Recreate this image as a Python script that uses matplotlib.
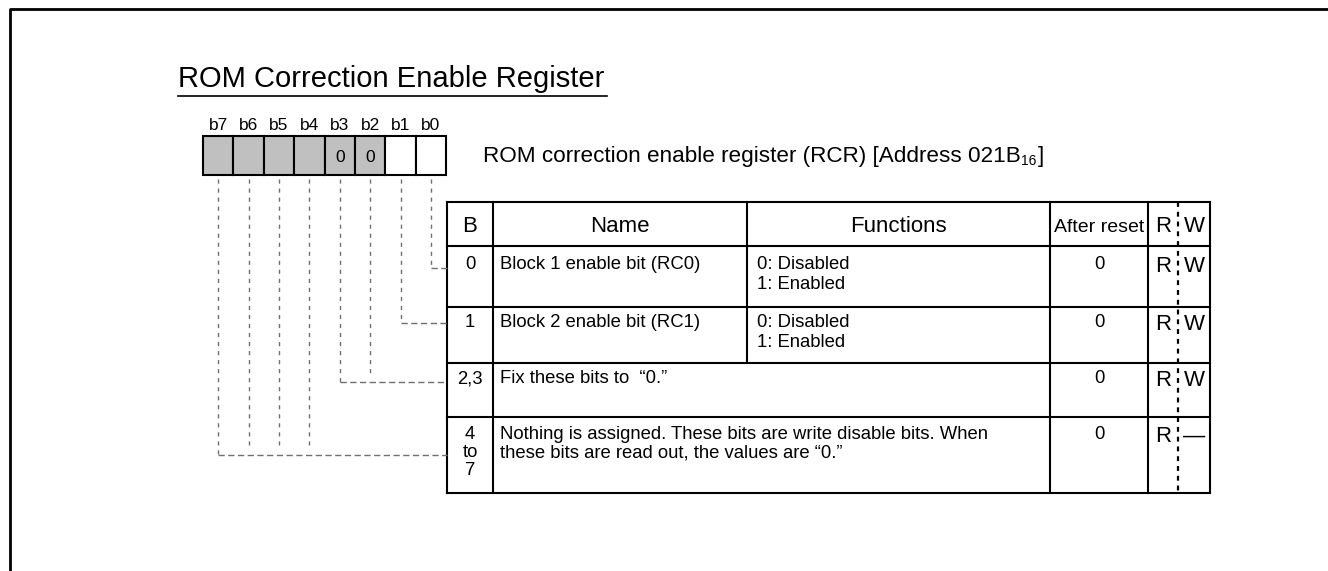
import matplotlib
matplotlib.use("Agg")
import matplotlib.pyplot as plt
from matplotlib.patches import Rectangle

plt.rcParams['font.family'] = ['Liberation Sans', 'DejaVu Sans']

# register content
title = 'ROM Correction Enable Register'
reg_desc = 'ROM correction enable register (RCR) [Address 021B'
reg_sub = '16'
reg_end = ']'
bit_labels = ['b7', 'b6', 'b5', 'b4', 'b3', 'b2', 'b1', 'b0']
bit_shaded = [True, True, True, True, True, True, False, False]
bit_fixed = ['', '', '', '', '0', '0', '', '']

header = ['B', 'Name', 'Functions', 'After reset', 'R', 'W']
row_bits = [['0'], ['1'], ['2,3'], ['4', 'to', '7']]
row_names = [['Block 1 enable bit (RC0)'], ['Block 2 enable bit (RC1)'],
             ['Fix these bits to  \u201c0.\u201d'],
             ['Nothing is assigned. These bits are write disable bits. When',
              'these bits are read out, the values are \u201c0.\u201d']]
row_funcs = [['0: Disabled', '1: Enabled'], ['0: Disabled', '1: Enabled'], None, None]
row_reset = ['0', '0', '0', '0']
row_read = ['R', 'R', 'R', 'R']
row_write = ['W', 'W', 'W', '\u2014']
# which bits (index into bit_labels) feed each row
row_sources = [[7], [6], [4, 5], [0, 1, 2, 3]]

fig = plt.figure(figsize=(13.28, 5.71), dpi=100)
ax = fig.add_axes([0, 0, 1, 1])
ax.set_xlim(0, 1328)
ax.set_ylim(571, 0)
ax.axis('off')

# outer frame (top + left)
ax.plot([10, 10, 1328], [571, 9, 9], color='black', lw=2, solid_capstyle='butt')

# title
ax.text(178, 87, title, fontsize=21, ha='left', va='baseline')
ax.plot([178, 607], [96, 96], color='black', lw=1.2)

# bit boxes
bx0, bw, by0, by1 = 203, 30.4, 136, 175
for i, lab in enumerate(bit_labels):
    x = bx0 + i * bw
    ax.add_patch(Rectangle((x, by0), bw, by1 - by0,
                           facecolor='#c0c0c0' if bit_shaded[i] else 'white',
                           edgecolor='black', lw=1.5))
    ax.text(x + bw / 2, 130, lab, fontsize=12.5, ha='center', va='baseline')
    if bit_fixed[i]:
        ax.text(x + bw / 2, 162, bit_fixed[i], fontsize=12.5, ha='center', va='baseline')

# register description with subscript, chained by text extents
t1 = ax.text(483, 162, reg_desc, fontsize=16.2, ha='left', va='baseline')
t2 = ax.annotate(reg_sub, xy=(1, 0), xycoords=t1, xytext=(0.5, -1),
                 textcoords='offset points', fontsize=10, ha='left', va='bottom')
ax.annotate(reg_end, xy=(1, 0), xycoords=t2, xytext=(0.5, 1),
            textcoords='offset points', fontsize=16.2, ha='left', va='bottom')

# table geometry
cols = [447, 493, 747, 1050, 1148, 1178, 1210]
rows = [202, 246, 307, 363, 417, 493]
tlw = 1.5
for y in rows:
    ax.plot([cols[0], cols[-1]], [y, y], color='black', lw=tlw, solid_capstyle='projecting')
for c in [cols[0], cols[1], cols[4], cols[6]]:
    ax.plot([c, c], [rows[0], rows[-1]], color='black', lw=tlw)
ax.plot([cols[2], cols[2]], [rows[0], rows[3]], color='black', lw=tlw)
ax.plot([cols[3], cols[3]], [rows[0], rows[-1]], color='black', lw=tlw)
ax.plot([cols[5], cols[5]], [rows[0], rows[-1]], color='black', lw=1.6,
        linestyle=(0, (2.2, 2.2)))

# header
hy = 232
ax.text((cols[0] + cols[1]) / 2, hy, header[0], fontsize=16, ha='center', va='baseline')
ax.text((cols[1] + cols[2]) / 2, hy, header[1], fontsize=16, ha='center', va='baseline')
ax.text((cols[2] + cols[3]) / 2, hy, header[2], fontsize=16, ha='center', va='baseline')
ax.text((cols[3] + cols[4]) / 2, hy, header[3], fontsize=14, ha='center', va='baseline')
ax.text((cols[4] + cols[5]) / 2, hy, header[4], fontsize=16, ha='center', va='baseline')
ax.text((cols[5] + cols[6]) / 2, hy, header[5], fontsize=16, ha='center', va='baseline')

# body rows
fs = 13.3
offsets = [23, 20, 20, 22]
spacing = [20, 20, 20, 18]
for r in range(len(row_bits)):
    base = rows[r + 1] + offsets[r]
    lh = spacing[r]
    for k, s in enumerate(row_bits[r]):
        ax.text((cols[0] + cols[1]) / 2, base + k * lh, s, fontsize=fs,
                ha='center', va='baseline')
    for k, s in enumerate(row_names[r]):
        ax.text(cols[1] + 7, base + k * lh, s, fontsize=fs, ha='left', va='baseline')
    if row_funcs[r]:
        for k, s in enumerate(row_funcs[r]):
            ax.text(cols[2] + 10, base + k * lh, s, fontsize=fs,
                    ha='left', va='baseline')
    ax.text((cols[3] + cols[4]) / 2, base, row_reset[r], fontsize=fs,
            ha='center', va='baseline')
    ax.text((cols[4] + cols[5]) / 2, base + 3, row_read[r], fontsize=16,
            ha='center', va='baseline')
    ax.text((cols[5] + cols[6]) / 2, base + 3, row_write[r], fontsize=16,
            ha='center', va='baseline')

# dashed leader lines from bits to rows
join_y = [268, 323, 382, 455]
vdash = (0, (3, 3.5))
hdash = (0, (4.5, 2.5))
gray = '#707070'
for r, srcs in enumerate(row_sources):
    yj = join_y[r]
    xs = [bx0 + i * bw + bw / 2 for i in srcs]
    for x in xs:
        end = yj if x == min(xs) else yj - 8
        ax.plot([x, x], [by1 + 4, end], color=gray, lw=1, linestyle=vdash)
    ax.plot([min(xs), cols[0]], [yj, yj], color=gray, lw=1, linestyle=hdash)

fig.savefig('out.png', dpi=100)
